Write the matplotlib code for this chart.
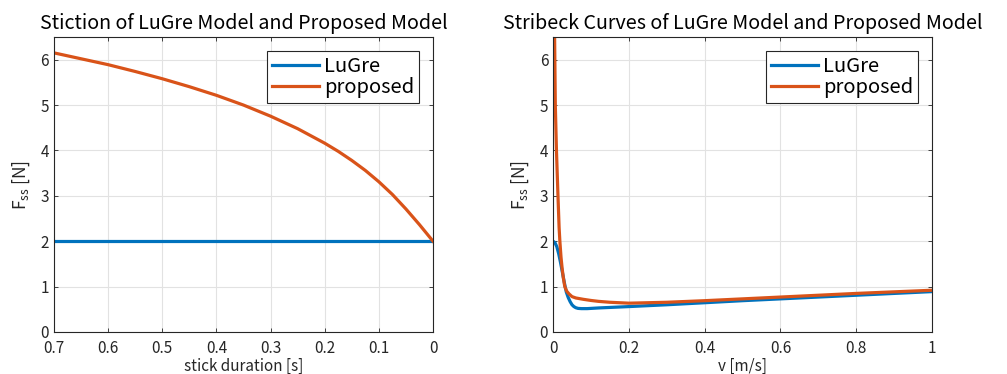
import numpy as np
from matplotlib import pyplot as plt

# left plot: stiction vs stick duration
t_dur = [0, 0.025, 0.05, 0.075, 0.1, 0.125, 0.15, 0.175, 0.2, 0.25, 0.3,
         0.35, 0.4, 0.45, 0.5, 0.55, 0.6, 0.65, 0.7]
fs_lugre = [2.0] * len(t_dur)
fs_prop = [2.0, 2.365, 2.71, 3.03, 3.31, 3.56, 3.78, 3.98, 4.16, 4.48, 4.755,
           5.0, 5.215, 5.405, 5.58, 5.74, 5.89, 6.02, 6.15]

# right plot: Stribeck curves
v_lugre = [0, 0.005, 0.01, 0.015, 0.02, 0.025, 0.03, 0.035, 0.04, 0.045,
           0.05, 0.055, 0.06, 0.066, 0.075, 0.09, 0.1, 0.12, 0.2, 0.3, 0.4,
           0.5, 0.6, 0.7, 0.8, 0.9, 1.0]
f_lugre = [2.0, 1.97, 1.88, 1.72, 1.52, 1.3, 1.08, 0.88, 0.76, 0.67,
           0.6, 0.56, 0.535, 0.52, 0.515, 0.515, 0.52, 0.53, 0.56, 0.6, 0.645,
           0.69, 0.73, 0.77, 0.81, 0.85, 0.89]
v_prop = [0, 0.004, 0.006, 0.009, 0.013, 0.016, 0.018, 0.021, 0.024, 0.027,
          0.031, 0.036, 0.042, 0.05, 0.06, 0.08, 0.1, 0.12, 0.15, 0.2, 0.3,
          0.4, 0.5, 0.6, 0.7, 0.8, 0.9, 1.0]
f_prop = [10.0, 6.6, 5.0, 4.0, 3.0, 2.3, 2.0, 1.65, 1.4, 1.2,
          1.0, 0.9, 0.84, 0.78, 0.75, 0.72, 0.695, 0.675, 0.655, 0.635, 0.655,
          0.69, 0.73, 0.77, 0.81, 0.85, 0.885, 0.92]

blue = '#0072BD'
orange = '#D95319'
dark = '#262626'

plt.rcParams['font.family'] = ['Noto Sans CJK JP', 'DejaVu Sans']
plt.rcParams['xtick.direction'] = 'in'
plt.rcParams['ytick.direction'] = 'in'

fig = plt.figure(figsize=(10.07, 3.74), dpi=100)
ax1 = fig.add_axes([0.0536, 0.1123, 0.3764, 0.7888])
ax2 = fig.add_axes([0.5492, 0.1123, 0.3764, 0.7888])


def style(ax):
    ax.grid(True, color='#e2e2e2', linewidth=0.8)
    ax.set_axisbelow(True)
    for s in ax.spines.values():
        s.set_color(dark)
        s.set_linewidth(0.8)
    ax.tick_params(colors=dark, labelsize=11, length=3, width=0.6,
                   top=True, right=True)
    ax.tick_params(axis='x', pad=6)
    ax.set_ylim(0, 6.5)
    ax.set_yticks(range(0, 7))
    ax.set_ylabel('F$_{\\mathregular{ss}}$ [N]', fontsize=12.5, color=dark,
                  labelpad=6)


ax1.plot(t_dur, fs_lugre, color=blue, lw=2.3, label='LuGre')
ax1.plot(t_dur, fs_prop, color=orange, lw=2.3, label='proposed')
style(ax1)
ax1.set_xlim(0.7, 0)
ax1.set_xticks([0.7, 0.6, 0.5, 0.4, 0.3, 0.2, 0.1, 0])
ax1.set_xticklabels(['0.7', '0.6', '0.5', '0.4', '0.3', '0.2', '0.1', '0'])
ax1.set_xlabel('stick duration [s]', fontsize=11, color=dark, labelpad=0)
ax1.set_title('Stiction of LuGre Model and Proposed Model', fontsize=14.2,
              color='black', pad=6)

ax2.plot(v_lugre, f_lugre, color=blue, lw=2.3, label='LuGre')
ax2.plot(v_prop, f_prop, color=orange, lw=2.3, label='proposed')
style(ax2)
ax2.set_xlim(0, 1)
ax2.set_xticks([0, 0.2, 0.4, 0.6, 0.8, 1])
ax2.set_xticklabels(['0', '0.2', '0.4', '0.6', '0.8', '1'])
ax2.set_xlabel('v [m/s]', fontsize=11, color=dark, labelpad=0)
ax2.set_title('Stribeck Curves of LuGre Model and Proposed Model', fontsize=14.2,
              color='black', pad=6)

for ax in (ax1, ax2):
    leg = ax.legend(loc='upper right', fontsize=14.5, frameon=True, fancybox=False,
                    edgecolor=dark, framealpha=1, handlelength=2.3,
                    handletextpad=0.25, borderpad=0.25, labelspacing=0.0,
                    borderaxespad=0.7)
    leg.get_frame().set_linewidth(0.8)

fig.savefig('out.png', dpi=100)
